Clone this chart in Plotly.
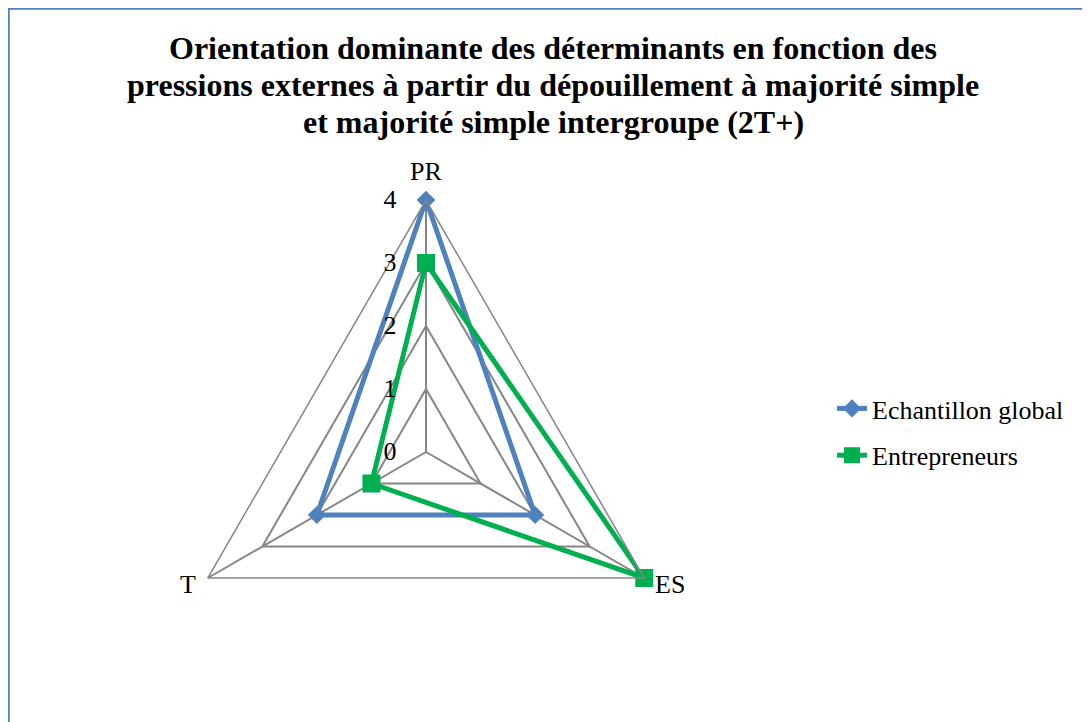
import math
import plotly.graph_objects as go

categories = ["PR", "ES", "T"]
global_vals = [4, 2, 2]
entrepreneurs_vals = [3, 4, 1]
radial_ticks = [0, 1, 2, 3, 4]

title_lines = ["Orientation dominante des déterminants en fonction des",
               "pressions externes à partir du dépouillement à majorité simple",
               "et majorité simple intergroupe (2T+)"]

serif = "Times New Roman, Liberation Serif, serif"
# page body has an 8px margin, so the figure is 8px smaller than the window
W, H = 1082, 714
cx, cy, rad = 418, 444, 252

fig = go.Figure()
fig.add_trace(go.Scatterpolar(
    r=global_vals + global_vals[:1], theta=categories + categories[:1],
    name="Echantillon global", mode="lines+markers", legendgroup="a",
    line=dict(color="#4F81BD", width=5),
    marker=dict(symbol="diamond", size=14, color="#4F81BD")))
fig.add_trace(go.Scatterpolar(
    r=entrepreneurs_vals + entrepreneurs_vals[:1], theta=categories + categories[:1],
    name="Entrepreneurs", mode="lines+markers", legendgroup="b",
    line=dict(color="#00B050", width=5),
    marker=dict(symbol="square", size=18, color="#00B050")))

for i, line in enumerate(title_lines):
    fig.add_annotation(text="<b>" + line + "</b>", xref="paper", yref="paper",
                       x=545 / W, y=1 - (40 + 37 * i) / H, xanchor="center", yanchor="middle",
                       showarrow=False, font=dict(family=serif, size=32, color="black"))

# category labels placed beside each vertex, like Excel does
for i, cat in enumerate(categories):
    ang = math.radians(90 - 360 / len(categories) * i)
    vx = cx + rad * math.cos(ang)
    vy = cy - rad * math.sin(ang)
    if abs(math.cos(ang)) < 1e-6:
        x, y, xa = vx, vy - 28, "center"
    elif math.cos(ang) > 0:
        x, y, xa = vx + 9, vy + 6, "left"
    else:
        x, y, xa = vx - 10, vy + 6, "right"
    fig.add_annotation(text=cat, xref="paper", yref="paper", x=x / W, y=1 - y / H,
                       xanchor=xa, yanchor="middle", showarrow=False,
                       font=dict(family=serif, size=26, color="black"))

fig.update_layout(
    width=W, height=H,
    margin=dict(l=0, r=0, t=0, b=0),
    paper_bgcolor="white",
    font=dict(family=serif, size=26, color="black"),
    polar=dict(
        domain=dict(x=[(cx - rad) / W, (cx + rad) / W],
                    y=[(H - cy - rad) / H, (H - cy + rad) / H]),
        gridshape="linear",
        bgcolor="white",
        radialaxis=dict(range=[0, 4], tickvals=radial_ticks, angle=90, tickangle=90,
                        side="counterclockwise", showline=False,
                        ticks="outside", ticklen=20, tickcolor="rgba(0,0,0,0)",
                        gridcolor="#868686", gridwidth=1.5,
                        tickfont=dict(family=serif, size=26)),
        angularaxis=dict(rotation=90, direction="clockwise",
                         linecolor="#868686", linewidth=1.5,
                         gridcolor="#868686", gridwidth=1.5,
                         ticks="", showticklabels=False),
    ),
    legend=dict(x=824 / W, y=1 - 377 / H, xanchor="left", yanchor="top",
                font=dict(family=serif, size=26), tracegroupgap=10,
                bgcolor="rgba(0,0,0,0)"),
    shapes=[dict(type="rect", xref="paper", yref="paper",
                 x0=0.5 / W, x1=1.2, y0=-0.2, y1=1 - 0.5 / H,
                 line=dict(color="#4F81BD", width=2.5))],
)

fig.write_html("out.html")
